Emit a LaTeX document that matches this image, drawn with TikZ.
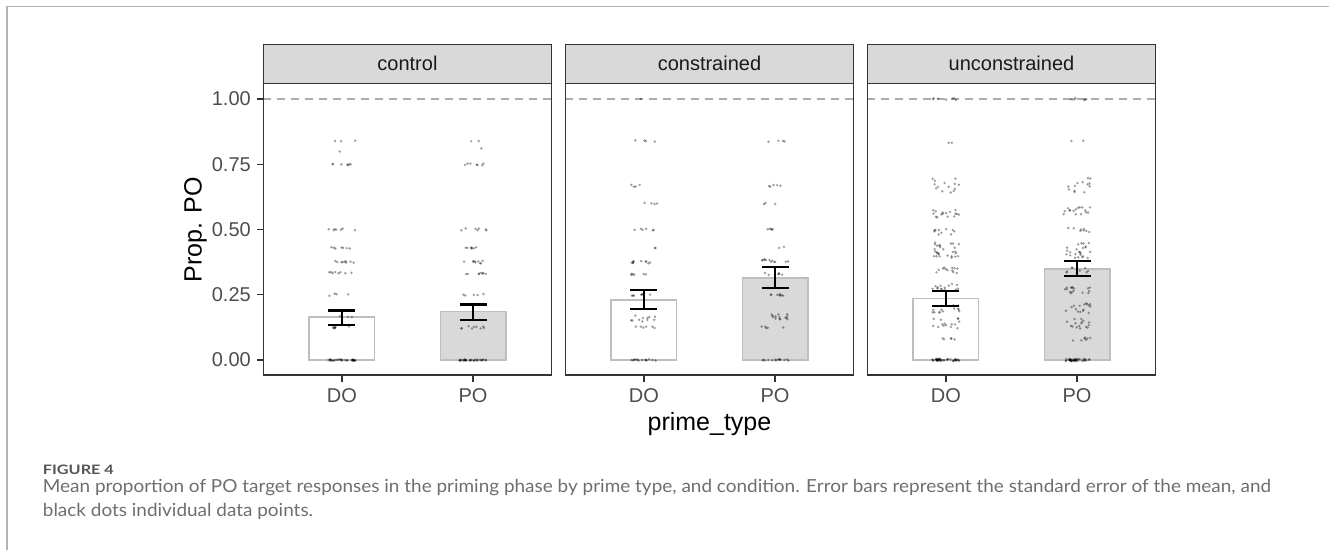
\documentclass[tikz,border=0pt]{standalone}
\usepackage{fontspec}
\usepackage{graphicx}
\setmainfont{Liberation Sans}
\newfontfamily\capfont{Lato}

\definecolor{gtwenty}{HTML}{333333}
\definecolor{gthirty}{HTML}{4D4D4D}
\definecolor{gten}{HTML}{1A1A1A}
\definecolor{stripfill}{HTML}{D9D9D9}
\definecolor{baredge}{HTML}{BEBEBE}
\definecolor{refline}{HTML}{ABABAB}
\definecolor{capgray}{HTML}{6E6E6E}
\definecolor{capdark}{HTML}{555555}
\definecolor{framegray}{HTML}{B3B3B3}

\newlength\capw
\newlength\figw
\newcommand\figlabel{\fontsize{13}{15}\selectfont\capfont\bfseries FIGURE 4}
\newcommand\caplineA{\fontsize{18}{21}\selectfont\capfont Mean proportion of PO target responses in the priming phase by prime type, and condition. Error bars represent the standard error of the mean, and}
\newcommand\caplineB{\fontsize{18}{21}\selectfont\capfont black dots individual data points.}

\tikzset{
  panelbox/.style={draw=gtwenty, line width=1.3pt, inner sep=0pt, minimum width=288.5pt, minimum height=291.5pt},
  stripbox/.style={draw=gtwenty, fill=stripfill, line width=1.3pt, inner sep=0pt, minimum width=288.5pt, minimum height=39pt},
  striptext/.style={anchor=base, inner sep=0pt, text=gten, font=\fontsize{20}{24}\selectfont},
  ticktext/.style={inner sep=0pt, text=gthirty, font=\fontsize{20}{24}\selectfont},
  axistitle/.style={anchor=base, inner sep=0pt, text=black, font=\fontsize{25}{30}\selectfont},
  tickmark/.style={draw=gtwenty, line width=1.3pt},
  meanbar/.style={draw=baredge, line width=1.5pt},
  ebar/.style={draw=black, line width=2.2pt},
  ref/.style={draw=refline, line width=1.3pt, dash pattern=on 8pt off 6pt},
  pt/.style={fill=black, fill opacity=0.38},
}

% bar of a group mean: centre x, fill, mean
\newcommand\meanbar[3]{%
  \draw[meanbar, fill=#2] ({#1-32.75},360) rectangle ({#1+32.75},{360-261*#3});}
% standard-error bar: centre x, lower, upper
\newcommand\errbar[3]{%
  \draw[ebar] ({#1-13.5},{360-261*#3}) -- ({#1+13.5},{360-261*#3})
    (#1,{360-261*#3}) -- (#1,{360-261*#2})
    ({#1-13.5},{360-261*#2}) -- ({#1+13.5},{360-261*#2});}
% jittered raw data: centre x, list of value/count/vertical spread
\newcommand\jitterpts[2]{%
  \foreach \yv/\cnt/\spr in {#2}{%
    \foreach \k in {1,...,\cnt}{%
      \pgfmathsetmacro\dx{13.5*rand}%
      \pgfmathsetmacro\dy{\spr*rand}%
      \fill[pt] ({#1+\dx},{360-261*(\yv+\dy)}) circle (1.35);
    }%
  }}

\begin{document}
\settowidth\figw{\figlabel}%
\pgfmathsetmacro\figsx{71/\figw}%
\settowidth\capw{\caplineA}%
\pgfmathsetmacro\capsx{1228/\capw}%
\begin{tikzpicture}[x=1pt, y=-1pt]
\useasboundingbox (0,0) rectangle (1329,550);
\pgfmathsetseed{2718}

% outer frame of the figure
\draw[framegray, line width=1.5pt] (1329,6.7) -- (7,6.7) -- (7,550);

% facet strips
\node[stripbox] (sa) at (407.45,64) {};
\node[stripbox] (sb) at (709.45,64) {};
\node[stripbox] (sc) at (1011.45,64) {};
\node[striptext] (la) at (407.45,70.7) {control};
\node[striptext] (lb) at (709.45,70.7) {constrained};
\node[striptext] (lc) at (1011.45,70.7) {unconstrained};

% reference line at 1
\draw[ref] (263.2,99) -- (551.7,99);
\draw[ref] (565.2,99) -- (853.7,99);
\draw[ref] (867.2,99) -- (1155.7,99);

% mean bars
\meanbar{341.9}{white}{0.164}
\meanbar{473.0}{stripfill}{0.185}
\meanbar{643.9}{white}{0.230}
\meanbar{775.0}{stripfill}{0.315}
\meanbar{945.9}{white}{0.236}
\meanbar{1077.0}{stripfill}{0.349}

% individual data points
\jitterpts{341.9}{0/30/0.003, 0.125/7/0.004, 0.167/3/0.004, 0.25/4/0.004, 0.333/8/0.004, 0.375/9/0.005, 0.43/7/0.003, 0.5/7/0.004, 0.75/7/0.004, 0.80/1/0.002, 0.84/3/0.004}
\jitterpts{473.0}{0/30/0.003, 0.125/9/0.005, 0.25/5/0.004, 0.333/8/0.004, 0.375/9/0.005, 0.43/7/0.003, 0.5/7/0.004, 0.75/7/0.004, 0.81/1/0.002, 0.84/2/0.004}
\jitterpts{643.9}{0/14/0.003, 0.125/6/0.005, 0.16/11/0.012, 0.25/7/0.004, 0.33/6/0.005, 0.375/10/0.006, 0.43/2/0.005, 0.5/6/0.004, 0.6/4/0.003, 0.667/4/0.004, 0.84/4/0.004, 1/1/0.002}
\jitterpts{775.0}{0/14/0.003, 0.125/5/0.004, 0.165/14/0.012, 0.25/8/0.004, 0.33/6/0.005, 0.38/12/0.006, 0.43/2/0.004, 0.5/5/0.004, 0.6/3/0.003, 0.667/5/0.004, 0.84/4/0.004}
\jitterpts{945.9}{0/40/0.004, 0.08/5/0.006, 0.14/15/0.02, 0.2/14/0.02, 0.28/14/0.012, 0.345/12/0.012, 0.42/28/0.03, 0.49/10/0.012, 0.56/16/0.015, 0.67/14/0.03, 0.83/2/0.003, 1/7/0.004}
\jitterpts{1077.0}{0/40/0.004, 0.08/7/0.008, 0.14/16/0.02, 0.2/16/0.02, 0.27/16/0.015, 0.345/10/0.012, 0.42/24/0.03, 0.5/8/0.01, 0.57/16/0.015, 0.67/13/0.03, 0.84/2/0.003, 1/7/0.004}

% standard errors
\errbar{341.9}{0.133}{0.190}
\errbar{473.0}{0.153}{0.213}
\errbar{643.9}{0.194}{0.268}
\errbar{775.0}{0.275}{0.356}
\errbar{945.9}{0.208}{0.263}
\errbar{1077.0}{0.323}{0.378}

% panel frames
\node[panelbox] (pa) at (407.45,229.25) {};
\node[panelbox] (pb) at (709.45,229.25) {};
\node[panelbox] (pc) at (1011.45,229.25) {};

% y axis
\foreach \v/\t [count=\j] in {0/0.00, 0.25/0.25, 0.5/0.50, 0.75/0.75, 1/1.00}{
  \draw[tickmark] (256.5,{360-261*\v}) -- (263.2,{360-261*\v});
  \node[ticktext, anchor=east] (ylab\j) at (251,{360-261*\v}) {\t};
}

% x axis
\foreach \cx/\t [count=\j] in {341.9/DO, 473.0/PO, 643.9/DO, 775.0/PO, 945.9/DO, 1077.0/PO}{
  \draw[tickmark] (\cx,375) -- (\cx,381.5);
  \node[ticktext, anchor=base] (xlab\j) at (\cx,402.3) {\t};
}

% axis titles
\node[axistitle, rotate=90] (ytitle) at (201.7,230) {Prop. PO};
\node[axistitle] (xtitle) at (709.45,430) {prime\_type};

% caption
\node[anchor=base west, inner sep=0pt, text=capdark] (fig) at (42.7,474.5)
  {\scalebox{\figsx}[1]{\figlabel}};
\node[anchor=base west, inner sep=0pt, text=capgray] (capa) at (42.7,492.5)
  {\scalebox{\capsx}[1]{\caplineA}};
\node[anchor=base west, inner sep=0pt, text=capgray] (capb) at (42.7,516)
  {\scalebox{\capsx}[1]{\caplineB}};
\end{tikzpicture}
\end{document}
